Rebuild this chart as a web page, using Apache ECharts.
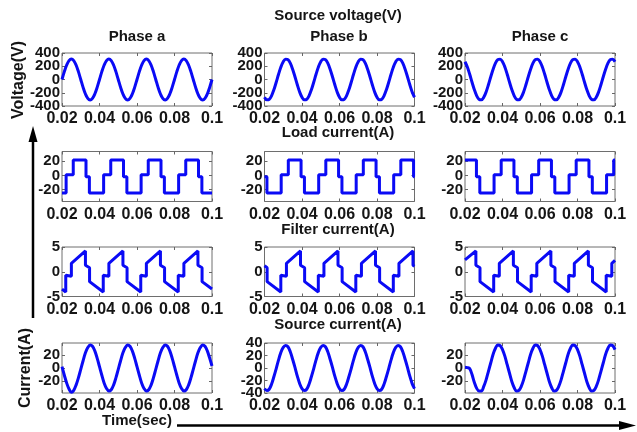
<!DOCTYPE html>
<html><head><meta charset="utf-8">
<script src="https://cdn.jsdelivr.net/npm/echarts@6/dist/echarts.min.js"></script>
<style>html,body{margin:0;padding:0;background:#fff}#c{width:637px;height:432px}</style>
</head><body><div id="c"></div><script>
// ---------- data ----------
const timeTicks = [0.02, 0.04, 0.06, 0.08, 0.1];
const tSine = [0.02,0.02125,0.0225,0.02375,0.025,0.02625,0.0275,0.02875,
0.03,0.03125,0.0325,0.03375,0.035,0.03625,0.0375,0.03875,
0.04,0.04125,0.0425,0.04375,0.045,0.04625,0.0475,0.04875,
0.05,0.05125,0.0525,0.05375,0.055,0.05625,0.0575,0.05875,
0.06,0.06125,0.0625,0.06375,0.065,0.06625,0.0675,0.06875,
0.07,0.07125,0.0725,0.07375,0.075,0.07625,0.0775,0.07875,
0.08,0.08125,0.0825,0.08375,0.085,0.08625,0.0875,0.08875,
0.09,0.09125,0.0925,0.09375,0.095,0.09625,0.0975,0.09875,0.1];

const voltA = [0,119,219,286,310,286,219,119,0,-119,-219,-286,-310,-286,-219,-119,
0,119,219,286,310,286,219,119,0,-119,-219,-286,-310,-286,-219,-119,
0,119,219,286,310,286,219,119,0,-119,-219,-286,-310,-286,-219,-119,
0,119,219,286,310,286,219,119,0,-119,-219,-286,-310,-286,-219,-119,0];
const voltB = [-268,-307,-299,-246,-155,-41,80,189,268,307,299,246,155,41,-80,-189,
-268,-307,-299,-246,-155,-41,80,189,268,307,299,246,155,41,-80,-189,
-268,-307,-299,-246,-155,-41,80,189,268,307,299,246,155,41,-80,-189,
-268,-307,-299,-246,-155,-41,80,189,268,307,299,246,155,41,-80,-189,-268];
const voltC = [268,189,80,-41,-155,-246,-299,-307,-268,-189,-80,41,155,246,299,307,
268,189,80,-41,-155,-246,-299,-307,-268,-189,-80,41,155,246,299,307,
268,189,80,-41,-155,-246,-299,-307,-268,-189,-80,41,155,246,299,307,
268,189,80,-41,-155,-246,-299,-307,-268,-189,-80,41,155,246,299,307,268];

const srcA = [2,-11,-23,-32,-37,-34,-26,-15,-2,11,23,31,35,33,26,15,
2,-11,-23,-31,-35,-33,-26,-15,-2,11,23,31,35,33,26,15,
2,-11,-23,-31,-35,-33,-26,-15,-2,11,23,31,35,33,26,15,
2,-11,-23,-31,-35,-33,-26,-15,-2,11,23,31,35,33,26,15,3];
const srcB = [-33,-36,-34,-26,-14,-1,13,25,33,36,34,26,14,1,-13,-25,
-33,-36,-34,-26,-14,-1,13,25,33,36,34,26,14,1,-13,-25,
-33,-36,-34,-26,-14,-1,13,25,33,36,34,26,14,1,-13,-25,
-33,-36,-34,-26,-14,-1,13,25,33,36,34,26,14,1,-13,-25,-33];
const srcC = [1,0.5,-1,-10,-22,-31,-35,-35,-28,-18,-5,8,21,30,35,34,
28,18,5,-8,-21,-30,-35,-34,-28,-18,-5,8,21,30,35,34,
28,18,5,-8,-21,-30,-35,-34,-28,-18,-5,8,21,30,35,34,
28,18,5,-8,-21,-30,-35,-34,-28,-18,-5,8,21,30,35,34,28];

const loadA = [[0.02,-25],[0.0222,-25],[0.0222,1],[0.026,1],[0.026,22],[0.0328,22],[0.0328,-2],[0.0346,-2],[0.0346,-25],
[0.0422,-25],[0.0422,1],[0.046,1],[0.046,22],[0.0528,22],[0.0528,-2],[0.0546,-2],[0.0546,-25],
[0.0622,-25],[0.0622,1],[0.066,1],[0.066,22],[0.0728,22],[0.0728,-2],[0.0746,-2],[0.0746,-25],
[0.0822,-25],[0.0822,1],[0.086,1],[0.086,22],[0.0928,22],[0.0928,-2],[0.0946,-2],[0.0946,-25],[0.1,-25]];
const loadB = [[0.02,-2],[0.0213,-2],[0.0213,-25],[0.0289,-25],[0.0289,1],[0.0327,1],[0.0327,22],[0.0395,22],[0.0395,-2],[0.0413,-2],[0.0413,-25],
[0.0489,-25],[0.0489,1],[0.0527,1],[0.0527,22],[0.0595,22],[0.0595,-2],[0.0613,-2],[0.0613,-25],
[0.0689,-25],[0.0689,1],[0.0727,1],[0.0727,22],[0.0795,22],[0.0795,-2],[0.0813,-2],[0.0813,-25],
[0.0889,-25],[0.0889,1],[0.0927,1],[0.0927,22],[0.0995,22],[0.0995,-2],[0.1,-2]];
const loadC = [[0.02,22],[0.0261,22],[0.0261,-2],[0.0279,-2],[0.0279,-25],[0.0355,-25],[0.0355,1],[0.0393,1],[0.0393,22],[0.0461,22],[0.0461,-2],[0.0479,-2],[0.0479,-25],
[0.0555,-25],[0.0555,1],[0.0593,1],[0.0593,22],[0.0661,22],[0.0661,-2],[0.0679,-2],[0.0679,-25],
[0.0755,-25],[0.0755,1],[0.0793,1],[0.0793,22],[0.0861,22],[0.0861,-2],[0.0879,-2],[0.0879,-25],
[0.0955,-25],[0.0955,1],[0.0993,1],[0.0993,22],[0.1,22]];

const filtA = [[0.02,-3.5],[0.022,-4.1],[0.022,-0.7],[0.025,-0.9],[0.025,1.7],[0.0325,4.2],[0.0325,1.3],[0.0347,0.8],[0.0347,-2.0],
[0.042,-4.1],[0.042,-0.7],[0.045,-0.9],[0.045,1.7],[0.0525,4.2],[0.0525,1.3],[0.0547,0.8],[0.0547,-2.0],
[0.062,-4.1],[0.062,-0.7],[0.065,-0.9],[0.065,1.7],[0.0725,4.2],[0.0725,1.3],[0.0747,0.8],[0.0747,-2.0],
[0.082,-4.1],[0.082,-0.7],[0.085,-0.9],[0.085,1.7],[0.0925,4.2],[0.0925,1.3],[0.0947,0.8],[0.0947,-2.0],[0.1,-3.5]];
const filtB = [[0.02,1.2],[0.0214,0.8],[0.0214,-2.0],[0.0287,-4.1],[0.0287,-0.7],[0.0317,-0.9],[0.0317,1.7],[0.0392,4.2],[0.0392,1.3],[0.0414,0.8],[0.0414,-2.0],
[0.0487,-4.1],[0.0487,-0.7],[0.0517,-0.9],[0.0517,1.7],[0.0592,4.2],[0.0592,1.3],[0.0614,0.8],[0.0614,-2.0],
[0.0687,-4.1],[0.0687,-0.7],[0.0717,-0.9],[0.0717,1.7],[0.0792,4.2],[0.0792,1.3],[0.0814,0.8],[0.0814,-2.0],
[0.0887,-4.1],[0.0887,-0.7],[0.0917,-0.9],[0.0917,1.7],[0.0992,4.2],[0.0992,1.3],[0.1,1.1]];
const filtC = [[0.02,2.4],[0.0258,4.2],[0.0258,1.3],[0.028,0.8],[0.028,-2.0],[0.0353,-4.1],[0.0353,-0.7],[0.0383,-0.9],[0.0383,1.7],[0.0458,4.2],[0.0458,1.3],[0.048,0.8],[0.048,-2.0],
[0.0553,-4.1],[0.0553,-0.7],[0.0583,-0.9],[0.0583,1.7],[0.0658,4.2],[0.0658,1.3],[0.068,0.8],[0.068,-2.0],
[0.0753,-4.1],[0.0753,-0.7],[0.0783,-0.9],[0.0783,1.7],[0.0858,4.2],[0.0858,1.3],[0.088,0.8],[0.088,-2.0],
[0.0953,-4.1],[0.0953,-0.7],[0.0983,-0.9],[0.0983,1.7],[0.1,2.3]];

const voltTicks = [-400, -200, 0, 200, 400];
const loadTicks = [-20, 0, 20];
const filtTicks = [-5, 0, 5];
const srcTicksAC = [-20, 0, 20];
const srcTicksB = [-40, -20, 0, 20, 40];

const phaseNames = ['Phase a', 'Phase b', 'Phase c'];
const rowTitles = ['Source voltage(V)', 'Load current(A)', 'Filter current(A)', 'Source current(A)'];

// ---------- layout ----------
const colLeft = [62, 264.5, 465];
const colW = 150;
const rowTop = [53, 151.5, 247, 343];
const rowH = [53, 50, 49.5, 50];
const FONT = '"Liberation Sans", Arial, sans-serif';
const BLUE = '#0a0af5';

const zip = (ts, vs) => ts.map((t, i) => [t, vs[i]]);
const panels = [
  [ {d: zip(tSine, voltA), s: true, min: -400, max: 400, ticks: voltTicks},
    {d: zip(tSine, voltB), s: true, min: -400, max: 400, ticks: voltTicks},
    {d: zip(tSine, voltC), s: true, min: -400, max: 400, ticks: voltTicks} ],
  [ {d: loadA, s: false, min: -37, max: 34, ticks: loadTicks},
    {d: loadB, s: false, min: -37, max: 34, ticks: loadTicks},
    {d: loadC, s: false, min: -37, max: 34, ticks: loadTicks} ],
  [ {d: filtA, s: false, min: -5, max: 5, ticks: filtTicks},
    {d: filtB, s: false, min: -5, max: 5, ticks: filtTicks},
    {d: filtC, s: false, min: -5, max: 5, ticks: filtTicks} ],
  [ {d: zip(tSine, srcA), s: true, min: -38, max: 38, ticks: srcTicksAC},
    {d: zip(tSine, srcB), s: true, min: -40, max: 40, ticks: srcTicksB},
    {d: zip(tSine, srcC), s: true, min: -38, max: 38, ticks: srcTicksAC} ]
];

const grids = [], xAxes = [], yAxes = [], series = [];
const tickStyle = {inside: true, length: 3, lineStyle: {color: '#666', width: 1}};
const labelBase = {hideOverlap: false, showMinLabel: true, showMaxLabel: true,
  fontWeight: 'bold', fontFamily: FONT, color: '#151515'};
panels.forEach((row, r) => row.forEach((p, c) => {
  const i = grids.length;
  grids.push({left: colLeft[c], top: rowTop[r], width: colW, height: rowH[r], show: true,
    borderColor: '#6e6e6e', borderWidth: 1, backgroundColor: '#fff', containLabel: false, outerBoundsMode: 'none'});
  const xBase = {gridIndex: i, type: 'value', min: 0.02, max: 0.1, interval: 0.02,
    axisLine: {show: false, onZero: false}, splitLine: {show: false}, axisTick: tickStyle};
  const xIdx = xAxes.length;
  xAxes.push(Object.assign({}, xBase, {position: 'bottom',
    axisLabel: Object.assign({}, labelBase, {margin: 5, fontSize: 16,
      formatter: v => String(+v.toFixed(2))})}));
  xAxes.push(Object.assign({}, xBase, {position: 'top', axisLabel: {show: false}}));
  const yBase = {gridIndex: i, type: 'value', min: p.min, max: p.max,
    axisLine: {show: false, onZero: false}, splitLine: {show: false}};
  const yIdx = yAxes.length;
  // main axes: ticks on both sides
  yAxes.push(Object.assign({}, yBase, {position: 'left',
    axisTick: Object.assign({customValues: p.ticks}, tickStyle), axisLabel: {show: false}}));
  yAxes.push(Object.assign({}, yBase, {position: 'right',
    axisTick: Object.assign({customValues: p.ticks}, tickStyle), axisLabel: {show: false}}));
  // one label per axis so MATLAB-style overlapping labels all stay visible
  p.ticks.forEach(v => {
    yAxes.push(Object.assign({}, yBase, {position: 'left', axisTick: {show: false},
      axisLabel: Object.assign({}, labelBase, {customValues: [v], margin: 2, fontSize: 15})}));
  });
  series.push({type: 'line', xAxisIndex: xIdx, yAxisIndex: yIdx, data: p.d, smooth: p.s ? 0.35 : false,
    symbol: 'none', clip: true, lineStyle: {color: BLUE, width: 3}, animation: false});
}));

const txt = (text, x, y, size, rot) => ({type: 'text', x: x, y: y, rotation: rot || 0,
  style: {text: text, align: 'center', verticalAlign: 'middle', font: 'bold ' + size + 'px ' + FONT, fill: '#151515'}});
const graphic = [
  txt(rowTitles[0], 338, 16, 15),
  txt(phaseNames[0], 137, 37, 15), txt(phaseNames[1], 339, 37, 15), txt(phaseNames[2], 540, 37, 15),
  txt(rowTitles[1], 338, 133, 15),
  txt(rowTitles[2], 338, 230, 15),
  txt(rowTitles[3], 338, 325, 15),
  txt('Voltage(V)', 19, 80, 16, Math.PI / 2),
  txt('Current(A)', 26, 368, 16, Math.PI / 2),
  txt('Time(sec)', 137, 421, 15),
  {type: 'line', shape: {x1: 33, y1: 318, x2: 33, y2: 138}, style: {stroke: '#000', lineWidth: 2.5}},
  {type: 'polygon', shape: {points: [[33, 126], [28.5, 142], [37.5, 142]]}, style: {fill: '#000'}},
  {type: 'line', shape: {x1: 177, y1: 425.5, x2: 624, y2: 425.5}, style: {stroke: '#000', lineWidth: 2.5}},
  {type: 'polygon', shape: {points: [[636, 425.5], [619, 421], [619, 430]]}, style: {fill: '#000'}}
];

const chart = echarts.init(document.getElementById('c'), null, {renderer: 'canvas'});
chart.setOption({animation: false, backgroundColor: '#fff', grid: grids, xAxis: xAxes, yAxis: yAxes, series: series, graphic: graphic});
</script></body></html>
